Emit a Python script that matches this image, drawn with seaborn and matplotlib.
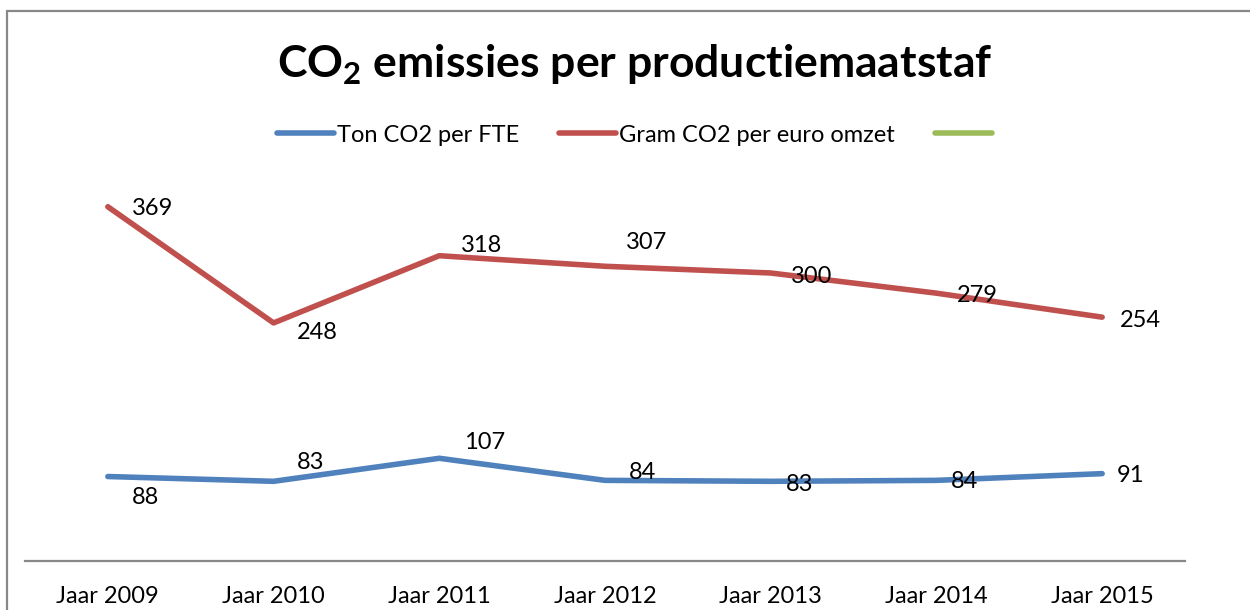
import matplotlib
matplotlib.use('Agg')
import matplotlib.pyplot as plt
from matplotlib.lines import Line2D
from matplotlib.patches import Rectangle
import seaborn as sns
import pandas as pd

# Data
jaren = ['Jaar 2009', 'Jaar 2010', 'Jaar 2011', 'Jaar 2012', 'Jaar 2013', 'Jaar 2014', 'Jaar 2015']
ton_per_fte = [88, 83, 107, 84, 83, 84, 91]
gram_per_euro = [369, 248, 318, 307, 300, 279, 254]
series_names = ['Ton CO2 per FTE', 'Gram CO2 per euro omzet', '']

colors = {'Ton CO2 per FTE': '#4F81BD', 'Gram CO2 per euro omzet': '#C0504D'}
green = '#9BBB59'

# label offsets in pixels (dx, dy up), as placed in the original
fte_offsets = [(38, -21), (37, 19), (45, 16), (38, 8), (29, -3), (28, -1), (28, -2)]
euro_offsets = [(45, -2), (44, -10), (42, 10), (42, 24), (41, -4), (41, -2), (38, -3)]

df = pd.DataFrame({
    'jaar': jaren * 2,
    'waarde': ton_per_fte + gram_per_euro,
    'reeks': [series_names[0]] * len(jaren) + [series_names[1]] * len(jaren),
})

sns.set_theme(style='white')
plt.rcParams['font.family'] = ['Lato', 'DejaVu Sans']
plt.rcParams['mathtext.fontset'] = 'custom'
plt.rcParams['mathtext.rm'] = 'Lato:bold'
plt.rcParams['mathtext.bf'] = 'Lato:bold'

fig = plt.figure(figsize=(12.5, 6.1), dpi=100)
ax = fig.add_axes([25 / 1250, 1 - 561 / 610, 1160 / 1250, 384 / 610])

sns.lineplot(data=df, x='jaar', y='waarde', hue='reeks', palette=colors,
             linewidth=4, legend=False, ax=ax, solid_capstyle='round')

for vals, offs in [(ton_per_fte, fte_offsets), (gram_per_euro, euro_offsets)]:
    for i, (v, (dx, dy)) in enumerate(zip(vals, offs)):
        ax.annotate(str(v), (i, v), xytext=(dx, dy), textcoords='offset pixels',
                    ha='center', va='center', fontsize=17, color='black')

ax.set_xlim(-0.5, len(jaren) - 0.5)
ax.set_ylim(0, 400)
ax.set_xlabel('')
ax.set_ylabel('')
ax.set_yticks([])
for s in ['left', 'right', 'top']:
    ax.spines[s].set_visible(False)
ax.spines['bottom'].set_color('#888888')
ax.spines['bottom'].set_linewidth(1.6)
ax.tick_params(axis='x', length=0, pad=18, labelsize=17, labelcolor='black')

# chart title
fig.text(635 / 1250, 1 - 65 / 610, 'CO$_2$ emissies per productiemaatstaf',
         ha='center', va='center', fontsize=32, fontweight='bold', color='black')

# legend, including the empty green series
handles = [Line2D([], [], color=colors[series_names[0]], lw=4, solid_capstyle='round'),
           Line2D([], [], color=colors[series_names[1]], lw=4, solid_capstyle='round'),
           Line2D([], [], color=green, lw=4, solid_capstyle='round')]
fig.legend(handles, series_names, loc='center', bbox_to_anchor=(636 / 1250, 1 - 135 / 610),
           ncol=3, frameon=False, fontsize=17, handlelength=2.4, handletextpad=0.13,
           columnspacing=1.7, labelcolor='black')

# outer chart border (right and bottom edges fall outside the picture)
fig.patches.append(Rectangle((7 / 1250, -0.05), 1.1, 1 - 11 / 610 + 0.05,
                             transform=fig.transFigure, fill=False,
                             edgecolor='#888888', linewidth=1.6))

fig.savefig('out.png', dpi=100)
